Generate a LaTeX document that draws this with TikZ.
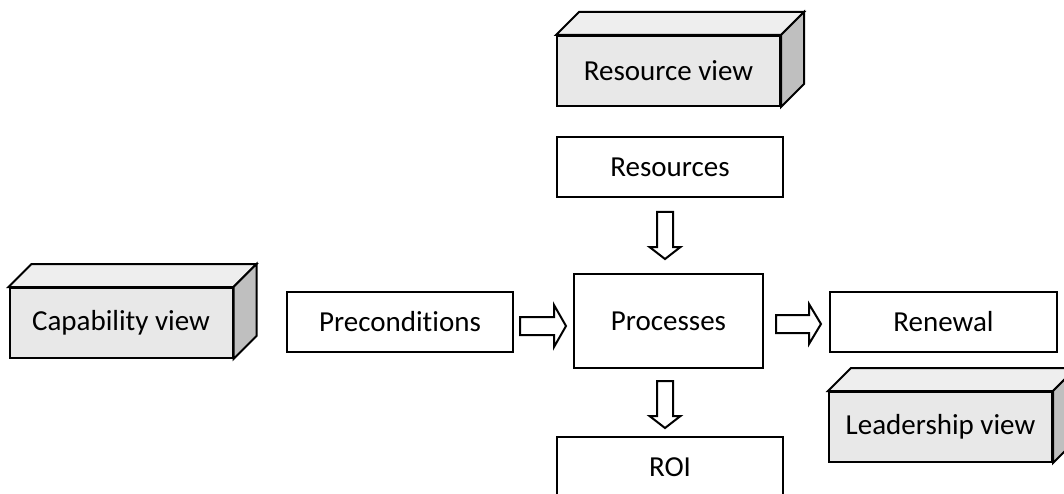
\documentclass[tikz,border=0pt]{standalone}
\usepackage{fontspec}
\setmainfont[Ligatures={NoCommon,NoRare,NoDiscretionary}]{Carlito}
\usetikzlibrary{calc}
\definecolor{frontgray}{HTML}{E8E8E8}
\definecolor{topgray}{HTML}{EEEEEE}
\definecolor{sidegray}{HTML}{BFBFBF}
\tikzset{
  boxline/.style={draw=black, line width=2pt},
  flatbox/.style={boxline, fill=white, rectangle, inner sep=0pt, minimum width=226pt, minimum height=60pt, font=\fontsize{29pt}{34pt}\selectfont},
  viewfront/.style={boxline, fill=frontgray, rectangle, inner sep=0pt, minimum width=223pt, minimum height=70pt, font=\fontsize{29pt}{34pt}\selectfont},
  arrowline/.style={draw=black, line width=2pt, fill=white, line join=miter},
  pics/blockarrow/.style n args={3}{code={
    \draw[arrowline] (0,-#2/2) -- ({#1-12},-#2/2) -- ({#1-12},-#3/2) -- (#1,0)
      -- ({#1-12},#3/2) -- ({#1-12},#2/2) -- (0,#2/2) -- cycle;
  }}
}
\newcommand{\viewbox}[1]{%
  \draw[boxline, fill=topgray, line join=miter] (#1.north west) -- ++(23,-23) -- ($(#1.north east)+(23,-23)$) -- (#1.north east) -- cycle;
  \draw[boxline, fill=sidegray, line join=miter] (#1.north east) -- ++(23,-23) -- ($(#1.south east)+(23,-23)$) -- (#1.south east) -- cycle;
}
\begin{document}
\begin{tikzpicture}[x=1pt, y=-1pt]
\useasboundingbox (0,0) rectangle (1064,494);
\clip (0,0) rectangle (1064,494);
\fill[white] (0,0) rectangle (1064,494);

% 3D view boxes
\node[viewfront] (resview) at (668.5,71) {Resource view};
\viewbox{resview}
\node[viewfront] (capview) at (121,323) {Capability view};
\viewbox{capview}
\node[viewfront] (leadview) at (940.5,427) {Leadership view};
\viewbox{leadview}

% flat boxes
\node[flatbox] (res) at (670,167) {Resources};
\node[flatbox, minimum width=189pt, minimum height=94pt] (proc) at (668.5,321) {Processes};
\node[flatbox] (pre) at (400,322) {Preconditions};
\node[flatbox, minimum width=227pt] (ren) at (943.5,322) {Renewal};
\node[flatbox] (roi) at (670,467) {ROI};

% block arrows
\pic at ($(pre.east)+(6,4)$) {blockarrow={46}{18}{42}};
\pic at ($(proc.east)+(12,3)$) {blockarrow={45}{18}{40}};
\pic[rotate=-90] at ($(res.south)+(-5,14)$) {blockarrow={47}{16}{31}};
\pic[rotate=-90] at ($(proc.south)+(-3.5,12)$) {blockarrow={47}{16}{31}};
\end{tikzpicture}
\end{document}
